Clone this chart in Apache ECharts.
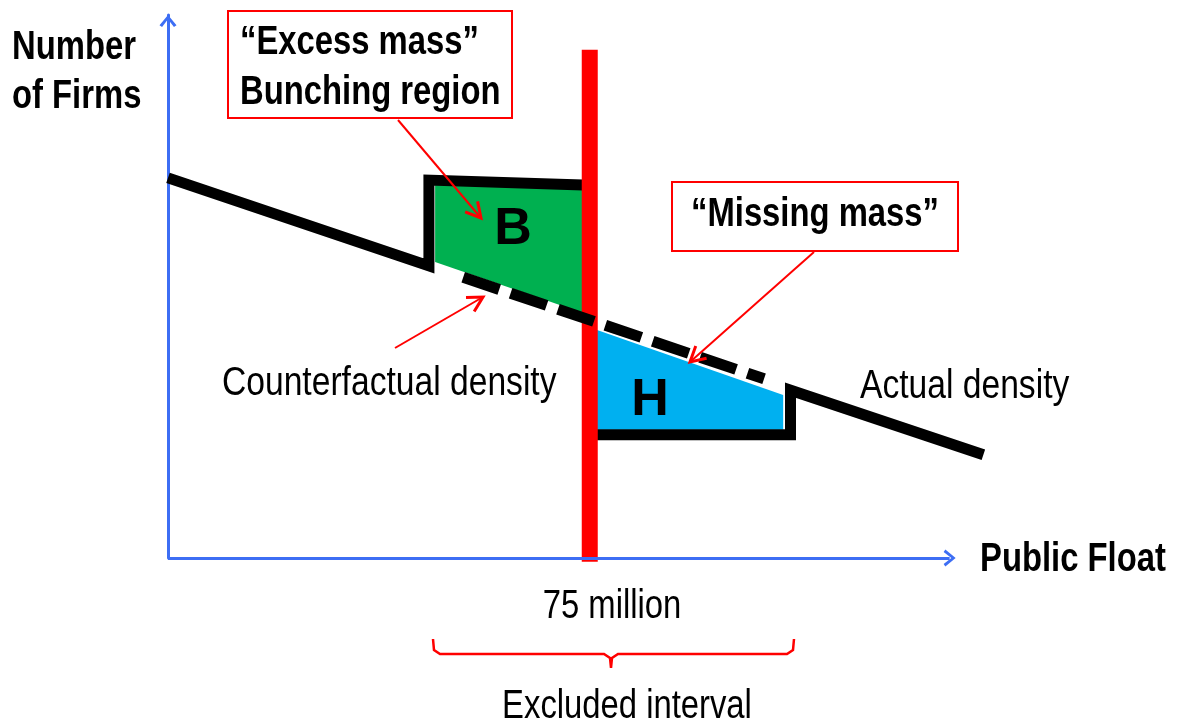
<!DOCTYPE html>
<html>
<head>
<meta charset="utf-8">
<script src="https://cdn.jsdelivr.net/npm/echarts@6/dist/echarts.min.js"></script>
<style>
  html, body { margin: 0; padding: 0; background: #fff; }
  #main { width: 1177px; height: 725px; }
</style>
</head>
<body>
<div id="main"></div>
<script>
// x = public float (million), y = number of firms (arbitrary units)
const actualLeft = [[0, 70.0], [46.4, 53.8], [46.4, 69.6], [73.8, 68.7]];
const actualRight = [[76.3, 22.7], [110.7, 22.7], [110.7, 30.9], [145.0, 19.0]];
const counterfactual = [[52.5, 51.7], [106.0, 33.0]];
const thresholdLine = [[75, -0.7], [75, 93.6]];
const excessArea = [[47.5, 69.1], [73.8, 68.9], [73.8, 45.1], [47.5, 54.5]];
const missingArea = [[76.3, 42.0], [109.4, 30.0], [109.4, 23.6], [76.3, 23.6]];
const xAxisEnd = 139.0;

const BLUE = '#3d6ef4';
const RED = '#ff0000';
const SANS = '"Liberation Sans", Arial, sans-serif';

const chart = echarts.init(document.getElementById('main'));

// arrow with open head, pixel coords
const arrow = (x1, y1, x2, y2) => {
  const a = Math.atan2(y2 - y1, x2 - x1), L = 17, s = 0.5;
  return [
    { type: 'polyline', z: 95, shape: { points: [[x1, y1], [x2, y2]] }, style: { stroke: RED, lineWidth: 2, fill: null } },
    { type: 'polyline', z: 95, shape: { points: [
        [x2 - L * Math.cos(a - s), y2 - L * Math.sin(a - s)], [x2, y2],
        [x2 - L * Math.cos(a + s), y2 - L * Math.sin(a + s)]] },
      style: { stroke: RED, lineWidth: 3, fill: null } }
  ];
};

// narrow text = arial squeezed to 82%
const txt = (x, y, text, font, align, narrow) => ({
  type: 'text', x: x, y: y, z: 100, scaleX: narrow === false ? 1 : 0.82,
  style: { text: text, font: font, fill: '#000', align: align || 'left', verticalAlign: 'middle' }
});

const polygon = (pts, color) => (params, api) => {
  if (params.dataIndex !== 0) return;
  return { type: 'polygon', shape: { points: pts.map(p => api.coord(p)) }, style: { fill: color } };
};

const lineSeries = (data, color, width, z, type) => ({
  type: 'line', data: data, symbol: 'none', silent: true, clip: false, z: z,
  lineStyle: { color: color, width: width, cap: 'butt', join: 'miter', type: type || 'solid' }
});

const chevron = 'path://M0,12 L10,0 L20,12 L17,14 L10,5 L3,14 Z';

chart.setOption({
  animation: false,
  grid: { left: 168, top: 15, width: 821, height: 543 },
  xAxis: {
    type: 'value', min: 0, max: 146,
    axisLine: { show: false },
    axisTick: { show: false }, axisLabel: { show: false }, splitLine: { show: false }
  },
  yAxis: {
    type: 'value', min: 0, max: 100,
    axisLine: { show: true, symbol: ['none', chevron], symbolSize: [17, 12], symbolOffset: [0, -6],
      lineStyle: { color: BLUE, width: 3 } },
    axisTick: { show: false }, axisLabel: { show: false }, splitLine: { show: false }
  },
  series: [
    { type: 'custom', data: [0], renderItem: polygon(excessArea, '#00b050'), silent: true, clip: false, z: 1 },
    { type: 'custom', data: [0], renderItem: polygon(missingArea, '#00b0f0'), silent: true, clip: false, z: 1 },
    {
      // visible x axis with arrow head
      type: 'line', data: [], silent: true, z: 2,
      markLine: {
        silent: true, animation: false, symbol: ['none', chevron], symbolSize: [17, 12],
        label: { show: false },
        lineStyle: { color: BLUE, width: 3, type: 'solid' },
        emphasis: { disabled: true },
        data: [[{ coord: [0, 0] }, { coord: [xAxisEnd, 0] }]]
      }
    },
    lineSeries(actualLeft, '#000', 11, 3),
    lineSeries(actualRight, '#000', 11, 3),
    lineSeries(thresholdLine, RED, 16, 4),
    lineSeries(counterfactual, '#000', 11, 5, [38, 12])
  ],
  graphic: [
    txt(12, 48, 'Number', 'bold 40px ' + SANS),
    txt(12, 97, 'of Firms', 'bold 40px ' + SANS),
    { type: 'rect', z: 90, shape: { x: 228, y: 11, width: 284, height: 107 }, style: { fill: '#fff', stroke: RED, lineWidth: 2 } },
    txt(240, 43, '\u201cExcess mass\u201d', 'bold 40px ' + SANS),
    txt(240, 93, 'Bunching region', 'bold 40px ' + SANS),
    { type: 'rect', z: 90, shape: { x: 672, y: 182, width: 286, height: 69 }, style: { fill: '#fff', stroke: RED, lineWidth: 2 } },
    txt(815, 215, '\u201cMissing mass\u201d', 'bold 40px ' + SANS, 'center'),
    txt(513, 230, 'B', 'bold 52px ' + SANS, 'center', false),
    txt(650, 401, 'H', 'bold 52px ' + SANS, 'center', false),
    txt(222, 384, 'Counterfactual density', '41px ' + SANS),
    txt(860, 387, 'Actual density', '41px ' + SANS),
    txt(980, 560, 'Public Float', 'bold 40px ' + SANS),
    txt(612, 607, '75 million', '40px ' + SANS, 'center'),
    txt(627, 707, 'Excluded interval', '40px ' + SANS, 'center'),
    { type: 'polyline', z: 90, shape: { points: [[433, 639], [434, 650], [440, 654], [604, 654], [610, 658], [611, 668],
        [612, 658], [618, 654], [787, 654], [793, 650], [794, 639]] },
      style: { stroke: RED, lineWidth: 2.5, fill: null } }
  ].concat(arrow(398, 120, 481, 218), arrow(814, 252, 690, 362), arrow(395, 348, 483, 297))
});
</script>
</body>
</html>
